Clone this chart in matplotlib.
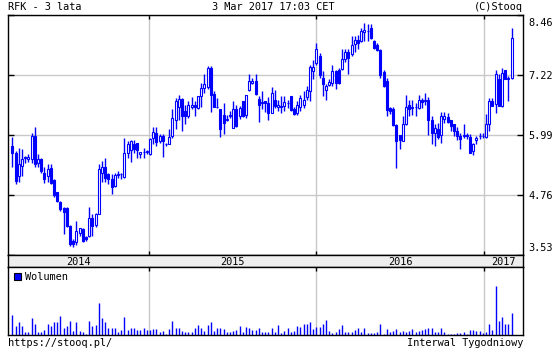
import numpy as np
import pandas as pd
import matplotlib
matplotlib.use("Agg")
import matplotlib.pyplot as plt
import matplotlib.dates as mdates
import matplotlib.transforms as mtransforms
from matplotlib.patches import Rectangle

plt.rcParams['font.family'] = ['DejaVu Sans Mono']
plt.rcParams['font.size'] = 7.4

# weekly candles, RFK, 3 years up to 3 Mar 2017
opens = [5.77, 5.63, 5.16, 5.35, 5.52, 5.50, 5.50, 5.97, 5.41, 5.50,
         5.21, 5.16, 5.31, 5.07, 4.83, 4.62, 4.49, 4.49, 4.13, 3.82,
         3.79, 3.99, 4.06, 3.89, 3.93, 4.30, 4.15, 4.38, 5.22, 5.34,
         5.19, 5.09, 4.94, 5.18, 5.19, 5.14, 5.63, 5.68, 5.82, 5.84,
         5.61, 5.64, 5.65, 5.61, 5.94, 6.04, 5.87, 5.98, 5.81, 5.82,
         5.98, 6.31, 6.56, 6.74, 6.48, 6.38, 6.57, 6.61, 6.55, 6.79,
         6.97, 6.99, 7.38, 6.84, 6.58, 6.52, 6.40, 6.31, 6.38, 6.13,
         6.52, 6.38, 6.69, 6.40, 6.91, 7.06, 7.11, 6.74, 6.66, 6.69,
         6.65, 6.45, 6.72, 6.56, 6.58, 6.60, 6.65, 6.79, 6.53, 6.45,
         6.58, 6.62, 6.77, 6.89, 7.31, 7.47, 7.61, 7.17, 6.91, 7.03,
         7.06, 7.30, 7.32, 7.36, 7.56, 7.71, 7.66, 7.86, 7.95, 7.93,
         8.12, 8.13, 8.19, 7.93, 7.85, 7.75, 7.29, 7.10, 6.54, 6.52,
         6.20, 5.99, 5.88, 6.22, 6.62, 6.55, 6.56, 6.55, 6.72, 6.69,
         6.72, 6.31, 6.04, 6.11, 5.99, 6.33, 6.37, 6.30, 6.22, 6.08,
         5.98, 5.98, 5.99, 5.96, 5.67, 5.89, 5.97, 5.98, 5.96, 6.22,
         6.69, 6.63, 7.14, 6.59, 7.34, 7.14, 7.17]
highs = [5.96, 5.67, 5.72, 5.70, 5.57, 5.60, 6.04, 6.16, 5.60, 5.53,
         5.33, 5.40, 5.40, 5.09, 4.83, 4.64, 4.51, 4.51, 4.15, 3.86,
         4.23, 4.08, 4.08, 3.93, 4.51, 4.37, 4.40, 5.40, 5.46, 5.53,
         5.22, 5.19, 5.22, 5.26, 5.22, 5.94, 5.87, 5.90, 5.90, 5.84,
         5.65, 5.73, 5.68, 5.94, 6.15, 6.15, 6.02, 6.01, 5.84, 6.11,
         6.52, 6.76, 6.82, 6.76, 6.61, 6.69, 6.77, 6.69, 6.79, 7.06,
         7.24, 7.41, 7.41, 6.89, 6.76, 6.52, 6.65, 6.40, 6.48, 6.69,
         6.61, 6.60, 6.69, 6.82, 7.24, 7.17, 7.24, 6.79, 6.89, 6.70,
         6.78, 6.99, 6.92, 6.72, 6.79, 6.79, 6.72, 6.79, 6.58, 6.69,
         6.82, 6.89, 7.00, 7.43, 7.53, 7.89, 7.68, 7.30, 7.04, 7.14,
         7.44, 7.34, 7.37, 7.77, 7.77, 7.77, 8.02, 8.02, 8.05, 8.19,
         8.29, 8.27, 8.27, 7.95, 7.89, 7.77, 7.32, 7.17, 6.58, 6.58,
         6.22, 6.00, 6.38, 6.82, 6.72, 6.72, 6.65, 6.82, 6.75, 6.86,
         6.77, 6.39, 6.22, 6.25, 6.47, 6.47, 6.45, 6.30, 6.22, 6.15,
         6.04, 6.22, 6.04, 6.01, 5.84, 5.98, 6.04, 6.04, 6.42, 6.76,
         6.76, 7.34, 7.24, 7.38, 7.34, 7.21, 8.20]
lows = [5.33, 4.99, 5.03, 5.16, 5.43, 5.45, 5.43, 5.33, 5.33, 5.22,
        5.01, 5.03, 4.99, 4.73, 4.62, 4.44, 3.96, 4.10, 3.71, 3.69,
        3.74, 3.93, 3.79, 3.82, 3.89, 3.93, 4.10, 4.37, 5.02, 5.02,
        4.99, 4.79, 4.92, 5.12, 5.10, 5.12, 5.53, 5.45, 5.63, 5.52,
        5.52, 5.52, 5.60, 5.59, 5.80, 5.77, 5.83, 5.54, 5.77, 5.80,
        5.94, 6.11, 6.31, 6.08, 6.22, 6.34, 6.52, 6.38, 6.52, 6.58,
        6.86, 6.95, 6.47, 6.56, 6.54, 5.95, 6.01, 6.29, 6.34, 6.13,
        6.15, 6.33, 6.36, 6.35, 6.90, 7.04, 6.82, 6.26, 6.52, 6.47,
        6.31, 6.45, 6.55, 6.48, 6.45, 6.48, 6.55, 6.49, 6.41, 6.41,
        6.48, 6.55, 6.72, 6.69, 7.15, 7.44, 7.16, 6.79, 6.72, 7.00,
        7.00, 6.95, 7.04, 7.34, 7.50, 7.24, 7.61, 7.71, 7.76, 7.91,
        7.93, 7.93, 7.96, 7.77, 7.73, 7.17, 6.98, 6.38, 6.42, 6.17,
        5.32, 5.70, 5.87, 6.21, 6.38, 6.41, 6.38, 6.52, 6.55, 6.62,
        5.99, 5.81, 5.77, 5.91, 5.84, 6.24, 6.24, 6.08, 5.98, 5.89,
        5.70, 5.94, 5.91, 5.62, 5.58, 5.81, 5.92, 5.94, 5.94, 6.08,
        6.59, 6.45, 6.59, 6.58, 7.14, 6.69, 7.14]
closes = [5.63, 5.05, 5.40, 5.50, 5.54, 5.55, 5.97, 5.40, 5.50, 5.26,
          5.09, 5.29, 5.01, 4.76, 4.64, 4.47, 4.42, 4.12, 3.75, 3.76,
          4.03, 4.08, 3.82, 3.85, 4.29, 4.13, 4.37, 5.29, 5.33, 5.12,
          5.09, 4.92, 5.18, 5.20, 5.19, 5.63, 5.82, 5.87, 5.70, 5.68,
          5.65, 5.65, 5.66, 5.91, 6.06, 5.86, 5.98, 5.87, 5.82, 5.96,
          6.34, 6.69, 6.74, 6.38, 6.38, 6.61, 6.62, 6.58, 6.79, 6.97,
          7.04, 7.37, 6.82, 6.58, 6.58, 6.11, 6.24, 6.33, 6.40, 6.52,
          6.17, 6.55, 6.38, 6.82, 7.10, 7.10, 6.84, 6.61, 6.68, 6.66,
          6.45, 6.86, 6.60, 6.62, 6.59, 6.67, 6.65, 6.50, 6.43, 6.62,
          6.75, 6.72, 6.91, 7.40, 7.40, 7.77, 7.23, 7.04, 7.00, 7.08,
          7.30, 7.06, 7.06, 7.56, 7.71, 7.58, 7.84, 7.95, 7.88, 8.14,
          8.16, 8.14, 7.99, 7.79, 7.75, 7.22, 7.00, 6.50, 6.48, 6.20,
          5.88, 5.90, 6.22, 6.58, 6.52, 6.58, 6.57, 6.72, 6.67, 6.72,
          6.31, 6.03, 6.13, 5.96, 6.39, 6.39, 6.26, 6.17, 6.08, 5.98,
          5.92, 5.99, 5.98, 5.62, 5.81, 5.94, 5.98, 5.98, 6.22, 6.69,
          6.60, 7.24, 6.60, 7.27, 7.15, 7.17, 7.99]
volume = [61, 26, 38, 28, 10, 10, 50, 34, 10, 10, 16, 34, 28, 38, 40, 58, 20, 28, 43, 13,
          38, 13, 8, 2, 43, 28, 30, 98, 52, 40, 20, 20, 20, 10, 14, 55, 14, 22, 20, 14,
          14, 22, 14, 16, 18, 18, 8, 13, 3, 18, 43, 20, 20, 13, 10, 10, 10, 20, 31, 20,
          12, 30, 40, 12, 20, 22, 18, 8, 10, 12, 14, 28, 8, 24, 20, 14, 16, 20, 8, 8,
          10, 20, 8, 30, 6, 12, 22, 8, 12, 28, 24, 33, 34, 40, 18, 23, 23, 33, 46, 13,
          6, 8, 18, 31, 10, 10, 8, 16, 22, 10, 22, 6, 6, 6, 8, 33, 4, 18, 10, 12,
          18, 8, 12, 8, 12, 18, 10, 12, 16, 18, 20, 20, 8, 10, 22, 8, 4, 4, 4, 6,
          6, 8, 4, 14, 16, 12, 12, 6, 8, 33, 16, 148, 42, 54, 32, 34, 66]
price_ticks = [3.53, 4.76, 5.99, 7.22, 8.46]
year_labels = ["2014", "2015", "2016", "2017"]
year_starts = ["2015-01-01", "2016-01-01", "2017-01-01"]

blue = "#0000ff"
grid_c = "#c8c8c8"

dates = pd.date_range(end="2017-03-03", periods=len(closes), freq="7D")
x = mdates.date2num(dates)
o = np.array(opens); h = np.array(highs); l = np.array(lows); c = np.array(closes)
xl = (x[0] - 9.5, x[-1] + 25)
ylines = mdates.date2num(pd.to_datetime(year_starts))

W, H = 560, 350
fig = plt.figure(figsize=(W / 100, H / 100), dpi=100)

def px_axes(left, top, right, bottom):
    return fig.add_axes([left / W, 1 - bottom / H, (right - left) / W, (bottom - top) / H])

ax = px_axes(8, 15, 523, 255)
strip = px_axes(8, 255, 523, 267)
axv = px_axes(8, 267, 523, 335)

# candles
ax.vlines(x, l, h, color=blue, lw=1.0, zorder=2)
bottoms = np.minimum(o, c)
heights = np.abs(c - o)
faces = np.where(c < o, blue, "white")
ax.bar(x, heights, bottom=bottoms, width=4.3, color=faces, edgecolor=blue,
       linewidth=0.8, zorder=3)

ax.set_xlim(*xl)
ax.set_ylim(price_ticks[0], price_ticks[-1])
ax.set_yticks(price_ticks)
ax.set_yticklabels([f"{t:.2f}" for t in price_ticks])
ax.yaxis.tick_right()
ax.tick_params(axis="y", left=True, right=True, direction="in", length=4,
               width=1, labelleft=False, labelright=True, pad=4, colors="black")
ax.set_xticks(ylines)
ax.tick_params(axis="x", top=True, bottom=True, direction="in", length=3,
               width=1, labelbottom=False)
ax.grid(True, color=grid_c, lw=1, zorder=0)
labs = ax.get_yticklabels()
labs[0].set_va("bottom")
labs[0].set_transform(labs[0].get_transform() +
                      mtransforms.ScaledTranslation(0, 2 / 100, fig.dpi_scale_trans))
labs[-1].set_va("top")
labs[-1].set_transform(labs[-1].get_transform() +
                       mtransforms.ScaledTranslation(0, -3 / 100, fig.dpi_scale_trans))

# year strip
strip.set_facecolor("#eeeeee")
strip.set_xlim(*xl)
strip.set_ylim(0, 1)
strip.set_xticks([]); strip.set_yticks([])
edges = [xl[0]] + list(ylines) + [xl[1]]
for lab, a, b in zip(year_labels, edges[:-1], edges[1:]):
    strip.text((a + b) / 2, 0.45, lab, ha="center", va="center")

# volume
axv.vlines(x, 0, volume, color=blue, lw=1.0, zorder=2)
axv.set_xlim(*xl)
axv.set_ylim(0, max(volume) * 1.39)
axv.set_yticks([])
axv.set_xticks(ylines)
axv.tick_params(axis="x", top=True, bottom=False, direction="in", length=3,
                width=1, labelbottom=False)
axv.grid(True, axis="x", color=grid_c, lw=1, zorder=0)
axv.add_patch(Rectangle((0.012, 0.81), 0.013, 0.1, transform=axv.transAxes,
                        facecolor=blue, edgecolor="black", lw=0.8, zorder=4))
axv.text(0.033, 0.86, "Wolumen", transform=axv.transAxes, va="center", ha="left")

for a in (ax, strip, axv):
    for s in a.spines.values():
        s.set_color("black")
        s.set_linewidth(1)

# header / footer
fig.text(8 / W, 1 - 7.5 / H, "RFK - 3 lata", ha="left", va="center")
fig.text(273 / W, 1 - 7.5 / H, "3 Mar 2017 17:03 CET", ha="center", va="center")
fig.text(523 / W, 1 - 7.5 / H, "(C)Stooq", ha="right", va="center")
fig.text(8 / W, 1 - 343.5 / H, "https://stooq.pl/", ha="left", va="center")
fig.text(523 / W, 1 - 343.5 / H, "Interwal Tygodniowy", ha="right", va="center")

fig.savefig("out.png", dpi=100, facecolor="white")
